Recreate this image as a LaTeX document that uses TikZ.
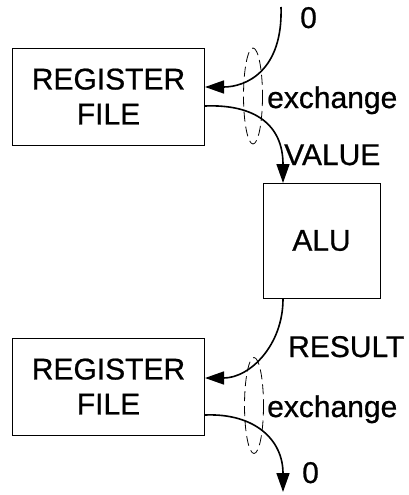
\documentclass[tikz,border=0pt]{standalone}
\usepackage{fontspec}
\setmainfont{Liberation Sans}
\newfontfamily\heavysans{Liberation Sans}[FakeBold=0.7]
\usetikzlibrary{arrows.meta}
\begin{document}
\begin{tikzpicture}[x=1pt,y=-1pt,
  unit/.style={draw, line width=0.9pt, inner sep=0pt, align=center,
    font=\heavysans\fontsize{30}{35}\selectfont},
  lbl/.style={anchor=base west, inner sep=0pt, font=\heavysans\fontsize{30}{35}\selectfont},
  flow/.style={line width=1.6pt, -{Triangle[length=19pt,width=13pt]}},
  group/.style={line width=0.8pt, dash pattern=on 10pt off 5pt}]
\useasboundingbox (0,0) rectangle (409,495);

% units
\node[unit, minimum width=192pt, minimum height=97pt] (rf1) at (108.5,96.5) {REGISTER\\FILE};
\node[unit, minimum width=117pt, minimum height=115pt] (alu) at (321.5,240.5) {ALU};
\node[unit, minimum width=192pt, minimum height=97pt] (rf2) at (108.5,386.5) {REGISTER\\FILE};

% connector end points
\coordinate (src) at (281,7);
\coordinate (rf1in) at (205,87);
\coordinate (rf1out) at (205,106);
\coordinate (aluin) at (283,183);
\coordinate (aluout) at (283,299);
\coordinate (rf2in) at (205,378);
\coordinate (rf2out) at (205,415);
\coordinate (sink) at (283,492);

% data flow
\draw[flow] (src) .. controls (283,72) and (245,87) .. (rf1in);
\draw[flow] (rf1out) .. controls (255,104) and (283,125) .. (aluin);
\draw[flow] (aluout) .. controls (283,345) and (250,378) .. (rf2in);
\draw[flow] (rf2out) .. controls (255,413) and (283,440) .. (sink);

% exchange groupings
\draw[group] (253,96) ellipse [x radius=9.5, y radius=48];
\draw[group] (254,405.5) ellipse [x radius=9.5, y radius=48];

% labels
\node[lbl] (zin) at (300,28) {0};
\node[lbl] (ex1) at (267,108) {exchange};
\node[lbl] (val) at (284,165) {VALUE};
\node[lbl] (res) at (288,357) {RESULT};
\node[lbl] (ex2) at (267,417) {exchange};
\node[lbl] (zout) at (302,483) {0};
\end{tikzpicture}
\end{document}
